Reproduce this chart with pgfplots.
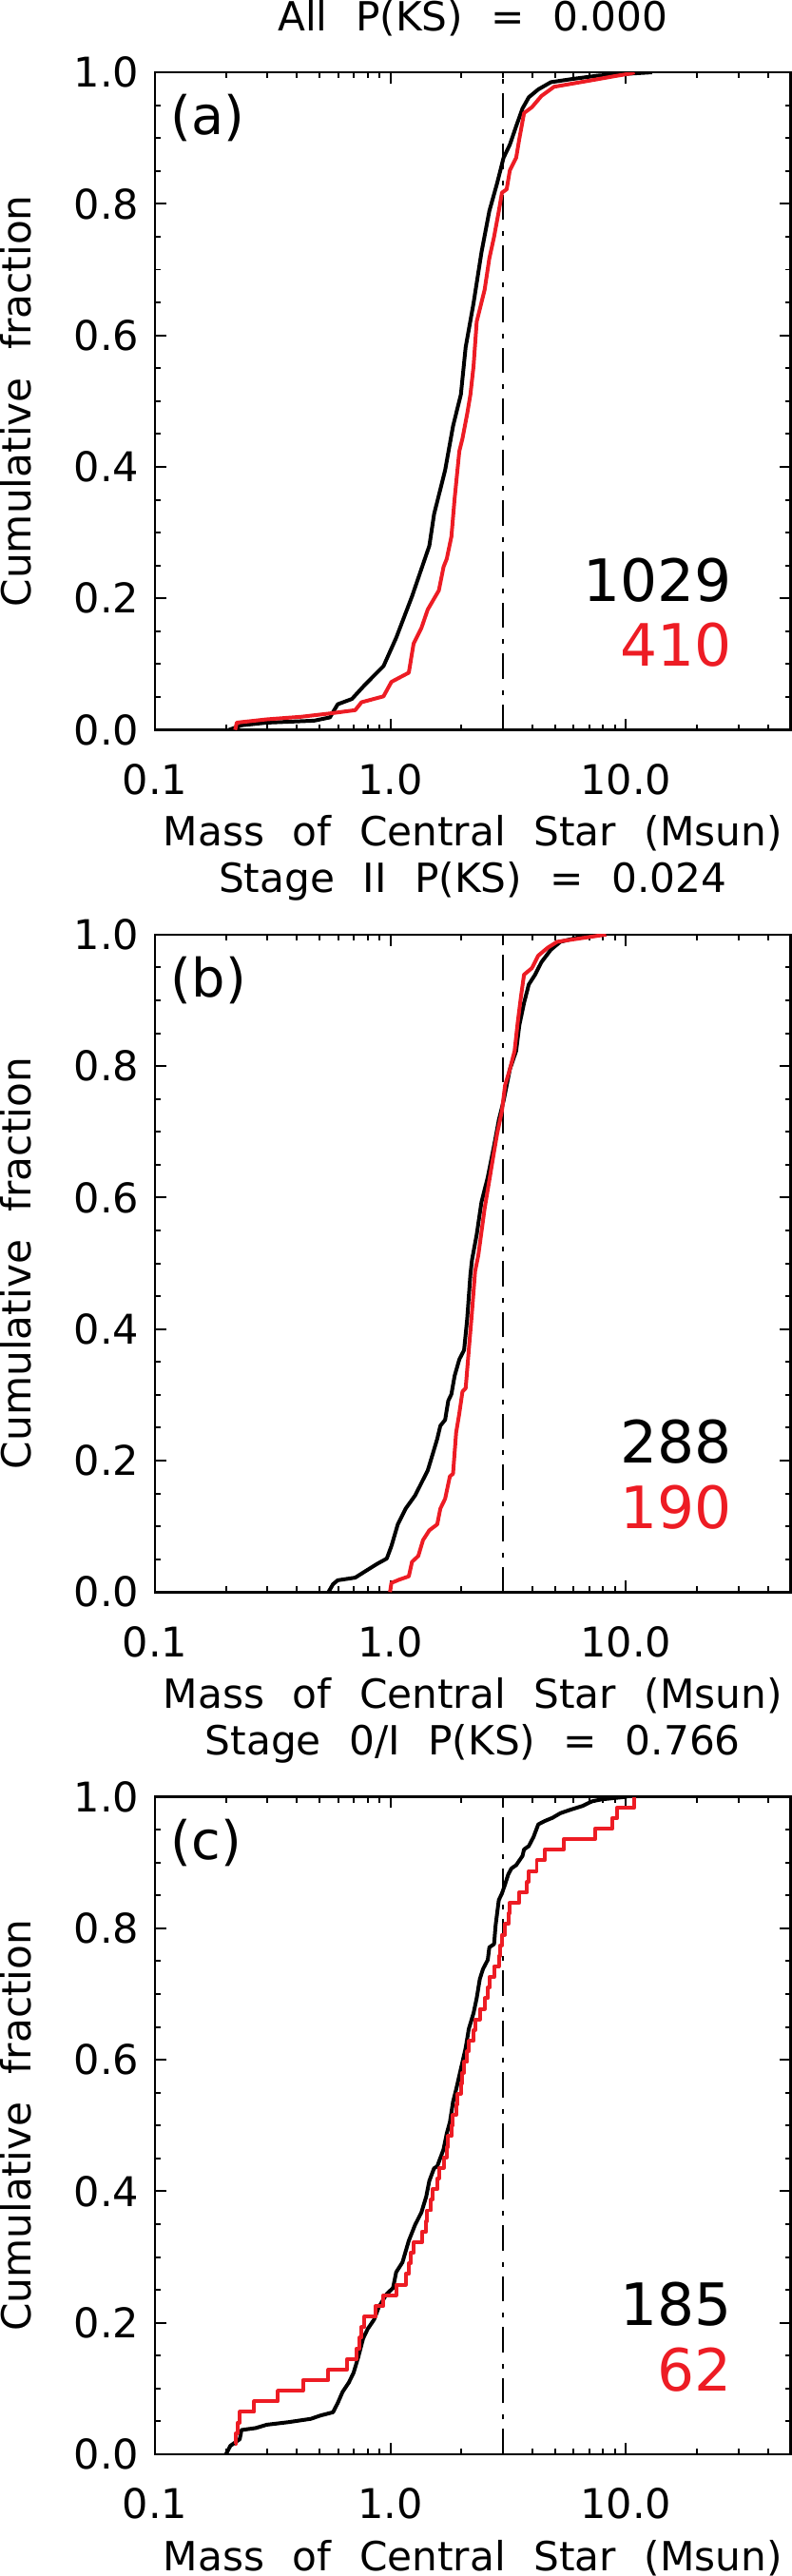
\documentclass[border=0pt]{standalone}
\usepackage{fontspec}
\setmainfont{DejaVu Sans}[WordSpace=2.2]
\usepackage{pgfplots}
\pgfplotsset{compat=1.18}
\definecolor{idlred}{RGB}{237,28,36}

\tikzset{
  ksnum/.style={anchor=base east, inner sep=0pt, font=\fontsize{15.4}{18}\selectfont},
  kslab/.style={anchor=base west, inner sep=0pt, font=\fontsize{14}{16}\selectfont},
}
\pgfplotsset{
  ksvline/.style={black, line width=0.55pt, dash pattern=on 6.7pt off 2.5pt on 1.25pt off 3pt},
  kscdf/.style={line width=1pt, line join=round},
}

\begin{document}
\begin{tikzpicture}
\pgfplotsset{
  every axis/.append style={
    scale only axis, width=167.75pt, height=173.5pt,
    xmin=0.1, xmax=50, ymin=0, ymax=1,
    xtick={0.1,1,10}, xticklabels={0.1,1.0,10.0},
    minor xtick={0.2,0.3,0.4,0.5,0.6,0.7,0.8,0.9,2,3,4,5,6,7,8,9,20,30,40},
    ytick={0,0.2,0.4,0.6,0.8,1}, yticklabels={0.0,0.2,0.4,0.6,0.8,1.0},
    minor y tick num=3,
    tick align=inside, major tick length=3pt, minor tick length=1.5pt,
    every tick/.append style={line width=0.5pt, black},
    axis line style={line width=0.6pt},
    tick label style={font=\fontsize{10.8}{12}\selectfont},
    xticklabel style={anchor=base, yshift=-17pt, inner sep=0pt},
    yticklabel style={anchor=east, inner sep=0pt, xshift=-4pt},
    xlabel={Mass of Central Star (Msun)},
    xlabel style={font=\fontsize{10.6}{12}\selectfont, at={(axis description cs:0.5,-0.177)}, anchor=base, inner sep=0pt},
    ylabel={Cumulative fraction},
    ylabel style={font=\fontsize{10.6}{12}\selectfont, at={(axis description cs:-0.245,0.5)}, anchor=north, inner sep=0pt},
    title style={font=\fontsize{10.6}{12}\selectfont, at={(axis description cs:0.5,1.029)}, anchor=base, inner sep=0pt},
  },
}

% (a) all
\begin{semilogxaxis}[at={(0,0)}, title={All P(KS) = 0.000}]
\addplot[ksvline] coordinates {(3,0) (3,1)};
\addplot[kscdf, black] coordinates {
(0.206,0)(0.233,0.007)(0.298,0.011)(0.474,0.014)(0.553,0.019)(0.597,0.039)
(0.686,0.047)(0.776,0.068)(0.934,0.097)(1.057,0.140)(1.234,0.203)(1.462,0.280)
(1.531,0.328)(1.706,0.395)(1.843,0.462)(1.990,0.510)(2.085,0.582)(2.252,0.649)
(2.433,0.726)(2.628,0.789)(2.839,0.832)(3.020,0.870)(3.212,0.890)(3.416,0.918)
(3.634,0.945)(3.865,0.962)(4.240,0.974)(4.797,0.985)(5.955,0.990)(7.621,0.995)
(10.38,0.998)(12.88,1.0)};
\addplot[kscdf, idlred] coordinates {
(0.219,0)(0.2225,0.011)(0.298,0.016)(0.419,0.020)(0.553,0.025)(0.708,0.030)
(0.753,0.042)(0.934,0.051)(1.009,0.073)(1.196,0.087)(1.253,0.131)(1.353,0.155)
(1.439,0.183)(1.604,0.212)(1.680,0.248)(1.733,0.260)(1.814,0.294)(1.872,0.352)
(1.960,0.424)(2.021,0.443)(2.117,0.481)(2.184,0.510)(2.252,0.553)(2.323,0.621)
(2.509,0.669)(2.628,0.717)(2.753,0.750)(2.883,0.789)(2.973,0.817)(3.113,0.822)
(3.212,0.851)(3.416,0.870)(3.524,0.899)(3.690,0.938)(3.986,0.947)(4.373,0.964)
(4.948,0.978)(5.955,0.983)(7.165,0.988)(8.893,0.994)(10.38,0.998)(10.87,1.0)};
\node[kslab] at (rel axis cs:0.024,0.905) {(a)};
\node[ksnum] at (rel axis cs:0.909,0.196) {1029};
\node[ksnum, idlred] at (rel axis cs:0.909,0.0965) {410};
\end{semilogxaxis}

% (b) stage II
\begin{semilogxaxis}[at={(0,-227.5pt)}, title={Stage II P(KS) = 0.024}]
\addplot[ksvline] coordinates {(3,0) (3,1)};
\addplot[kscdf, black] coordinates {
(0.545,0)(0.570,0.012)(0.597,0.018)(0.708,0.022)(0.776,0.031)(0.878,0.043)
(0.964,0.051)(1.009,0.070)(1.074,0.103)(1.160,0.127)(1.272,0.147)(1.353,0.166)
(1.439,0.185)(1.508,0.209)(1.579,0.233)(1.628,0.253)(1.706,0.262)(1.759,0.291)
(1.814,0.301)(1.872,0.329)(1.960,0.354)(2.053,0.368)(2.117,0.416)(2.184,0.483)
(2.218,0.505)(2.323,0.544)(2.433,0.593)(2.588,0.631)(2.753,0.679)(2.883,0.718)
(3.020,0.747)(3.212,0.795)(3.416,0.823)(3.524,0.862)(3.690,0.896)(3.865,0.924)
(4.111,0.939)(4.373,0.958)(4.797,0.977)(5.262,0.989)(6.333,0.996)(6.737,1.0)};
\addplot[kscdf, idlred] coordinates {
(0.995,0)(1.009,0.014)(1.090,0.019)(1.196,0.024)(1.234,0.046)(1.312,0.055)
(1.374,0.079)(1.462,0.094)(1.579,0.103)(1.628,0.127)(1.706,0.142)(1.787,0.176)
(1.843,0.180)(1.900,0.243)(1.960,0.272)(2.021,0.305)(2.085,0.310)(2.150,0.368)
(2.218,0.426)(2.287,0.488)(2.359,0.512)(2.509,0.583)(2.588,0.612)(2.753,0.670)
(2.839,0.698)(2.973,0.732)(3.066,0.771)(3.212,0.795)(3.364,0.823)(3.470,0.867)
(3.578,0.905)(3.690,0.939)(3.986,0.949)(4.240,0.968)(4.652,0.980)(5.102,0.989)
(6.333,0.994)(8.234,1.0)};
\node[kslab] at (rel axis cs:0.024,0.905) {(b)};
\node[ksnum] at (rel axis cs:0.909,0.196) {288};
\node[ksnum, idlred] at (rel axis cs:0.909,0.0965) {190};
\end{semilogxaxis}

% (c) stage 0/I
\begin{semilogxaxis}[at={(0,-455pt)}, title={Stage 0/I P(KS) = 0.766}]
\addplot[ksvline] coordinates {(3,0) (3,1)};
\addplot[kscdf, black] coordinates {
(0.200,0)(0.209,0.013)(0.229,0.023)(0.233,0.037)(0.268,0.040)(0.298,0.045)
(0.370,0.049)(0.459,0.054)(0.504,0.059)(0.570,0.064)(0.597,0.078)(0.626,0.095)
(0.665,0.109)(0.697,0.124)(0.730,0.148)(0.765,0.176)(0.801,0.191)(0.852,0.205)
(0.892,0.224)(0.964,0.244)(1.025,0.253)(1.057,0.277)(1.124,0.292)(1.196,0.325)
(1.272,0.349)(1.353,0.368)(1.418,0.392)(1.462,0.416)(1.531,0.435)(1.579,0.438)
(1.680,0.464)(1.733,0.488)(1.787,0.505)(1.843,0.536)(1.900,0.555)(2.085,0.618)
(2.150,0.647)(2.252,0.671)(2.323,0.694)(2.395,0.723)(2.470,0.738)(2.588,0.752)
(2.628,0.771)(2.753,0.776)(2.795,0.805)(2.883,0.843)(2.973,0.853)(3.066,0.867)
(3.162,0.882)(3.261,0.891)(3.416,0.896)(3.634,0.910)(3.690,0.920)(3.865,0.925)
(4.049,0.939)(4.240,0.958)(4.510,0.963)(4.872,0.968)(5.262,0.975)(5.773,0.980)
(6.531,0.986)(7.165,0.993)(7.862,0.996)(10.06,1.0)};
\addplot[kscdf, idlred, const plot] coordinates {
(0.219,0.0161)(0.2211,0.0323)(0.2245,0.0484)(0.229,0.0645)(0.2636,0.0806)
(0.3322,0.0968)(0.4251,0.1129)(0.545,0.1290)(0.655,0.1452)(0.719,0.1613)
(0.741,0.1774)(0.753,0.1935)(0.776,0.2097)(0.865,0.2258)(0.934,0.2419)
(1.057,0.2581)(1.160,0.2742)(1.196,0.2903)(1.215,0.3065)(1.253,0.3226)
(1.362,0.3387)(1.418,0.3548)(1.431,0.3710)(1.484,0.3871)(1.508,0.4032)
(1.579,0.4194)(1.604,0.4355)(1.680,0.4516)(1.733,0.4677)(1.759,0.4839)
(1.814,0.5)(1.843,0.5161)(1.900,0.5323)(1.930,0.5484)(1.990,0.5645)
(2.021,0.5806)(2.053,0.5968)(2.117,0.6129)(2.150,0.6290)(2.252,0.6452)
(2.287,0.6613)(2.395,0.6774)(2.509,0.6935)(2.588,0.7097)(2.628,0.7258)
(2.753,0.7419)(2.883,0.7581)(2.928,0.7742)(2.973,0.7903)(3.066,0.8065)
(3.162,0.8226)(3.212,0.8387)(3.524,0.8548)(3.805,0.8710)(3.865,0.8871)
(4.176,0.9032)(4.510,0.9194)(5.428,0.9355)(7.390,0.9516)(8.757,0.9677)
(9.173,0.9839)(10.87,1.0)};
\node[kslab] at (rel axis cs:0.024,0.905) {(c)};
\node[ksnum] at (rel axis cs:0.909,0.196) {185};
\node[ksnum, idlred] at (rel axis cs:0.909,0.0965) {62};
\end{semilogxaxis}

\end{tikzpicture}
\end{document}
